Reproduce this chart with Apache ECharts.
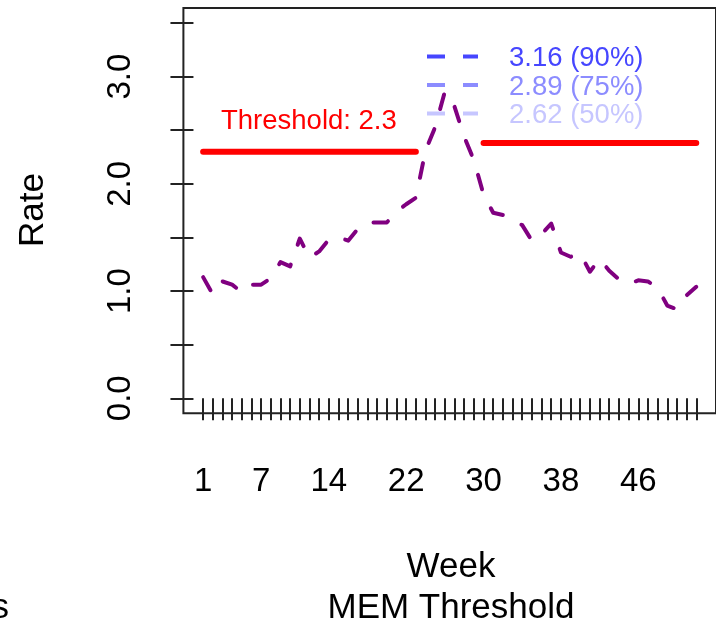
<!DOCTYPE html>
<html>
<head>
<meta charset="utf-8">
<script src="https://cdn.jsdelivr.net/npm/echarts@6/dist/echarts.min.js"></script>
<style>
  html, body { margin: 0; padding: 0; background: #fff; }
  #chart { width: 716px; height: 625px; }
</style>
</head>
<body>
<div id="chart"></div>
<script>
// Weekly rates for the season (weeks 1..52)
const weeks = [];
for (let w = 1; w <= 52; w++) weeks.push(w);
const rates = [
  1.13, 0.97, 1.09, 1.06, 0.99, 1.06, 1.06, 1.12, 1.27, 1.23,
  1.49, 1.31, 1.37, 1.48, 1.50, 1.47, 1.58, 1.64, 1.64, 1.64,
  1.74, 1.81, 1.87, 2.31, 2.53, 2.86, 2.72, 2.44, 2.22, 1.90,
  1.73, 1.71, 1.66, 1.615, 1.47, 1.53, 1.63, 1.36, 1.32, 1.35,
  1.18, 1.30, 1.19, 1.11, 1.065, 1.10, 1.09, 1.03, 0.865, 0.83,
  0.96, 1.04
];

// Epidemic thresholds and the weeks they span
const preThreshold = 2.30;
const postThreshold = 2.38;
const preWeeks = [1, 23];
const postWeeks = [30, 52];

// Intensity levels
const intensityValues = [3.16, 2.89, 2.62];
const intensityLevels = ['90%', '75%', '50%'];
const intensityColors = ['#4646FF', '#8C8CFF', '#C6C6FF'];

// Axis ticks and labels
const xTickWeeks = weeks.slice();
const xLabelWeeks = [1, 7, 14, 22, 30, 38, 46];
const yTicks = [0, 0.5, 1, 1.5, 2, 2.5, 3, 3.5];
const yLabels = [0, 1, 2, 3];

const FONT = '"Liberation Sans", Arial, sans-serif';
const AXIS_COLOR = '#222';

const chart = echarts.init(document.getElementById('chart'), null, { renderer: 'canvas' });

// Legend rows: dashed swatch followed by "value (level)"
const legendGraphics = [];
const rowY = [56.5, 85, 113.5];
intensityValues.forEach((v, i) => {
  legendGraphics.push({
    type: 'line',
    z: 1,
    shape: { x1: 427, y1: rowY[i], x2: 478, y2: rowY[i] },
    style: { stroke: intensityColors[i], lineWidth: 4, lineDash: [18, 18], lineCap: 'butt' }
  });
  legendGraphics.push({
    type: 'text',
    z: 1,
    x: 509, y: rowY[i] + 2,
    style: {
      text: v.toFixed(2) + ' (' + intensityLevels[i] + ')',
      fill: intensityColors[i],
      fontSize: 27.5, fontFamily: FONT,
      textAlign: 'left', textVerticalAlign: 'middle'
    }
  });
});

const option = {
  animation: false,
  backgroundColor: '#fff',
  textStyle: { fontFamily: FONT },
  grid: {
    left: 183.4, top: 8, width: 538.2, height: 405.3,
    show: true, borderColor: AXIS_COLOR, borderWidth: 2, backgroundColor: 'transparent'
  },
  xAxis: {
    type: 'value',
    min: -1.04, max: 54.04,
    splitLine: { show: false },
    axisLine: { show: false },
    axisTick: {
      show: true, customValues: xTickWeeks, length: 22,
      lineStyle: { color: AXIS_COLOR, width: 2 }
    },
    axisLabel: {
      show: true, customValues: xLabelWeeks,
      fontSize: 33, color: '#000', margin: 52, fontFamily: FONT
    }
  },
  yAxis: {
    type: 'value',
    min: -0.14, max: 3.64,
    splitLine: { show: false },
    axisLine: { show: false },
    axisTick: {
      show: true, customValues: yTicks, length: 23,
      lineStyle: { color: AXIS_COLOR, width: 2 }
    },
    axisLabel: {
      show: true, customValues: yLabels, rotate: 90,
      formatter: v => Number(v).toFixed(1),
      fontSize: 33, color: '#000', margin: 46, fontFamily: FONT
    }
  },
  series: [
    {
      name: 'Pre-epidemic threshold',
      type: 'line',
      z: 2,
      data: preWeeks.map(w => [w, preThreshold]),
      showSymbol: false,
      lineStyle: { color: '#FF0000', width: 6, cap: 'round' }
    },
    {
      name: 'Post-epidemic threshold',
      type: 'line',
      z: 2,
      data: postWeeks.map(w => [w, postThreshold]),
      showSymbol: false,
      lineStyle: { color: '#FF0000', width: 6, cap: 'round' }
    },
    {
      name: 'Rate',
      type: 'line',
      z: 3,
      data: weeks.map((w, i) => [w, rates[i]]),
      showSymbol: false,
      lineStyle: { color: '#800080', width: 4, type: [15, 21], cap: 'round', join: 'round' }
    }
  ],
  graphic: legendGraphics.concat([
    {
      type: 'text', z: 1,
      x: 221, y: 121,
      style: {
        text: 'Threshold: ' + preThreshold.toFixed(1),
        fill: '#FF0000', fontSize: 27.5, fontFamily: FONT,
        textAlign: 'left', textVerticalAlign: 'middle'
      }
    },
    {
      type: 'text',
      x: 33, y: 210, rotation: Math.PI / 2,
      style: {
        text: 'Rate', fill: '#000', fontSize: 35, fontFamily: FONT,
        textAlign: 'center', textVerticalAlign: 'middle'
      }
    },
    {
      type: 'text',
      x: 451, y: 567,
      style: {
        text: 'Week', fill: '#000', fontSize: 35, fontFamily: FONT,
        textAlign: 'center', textVerticalAlign: 'middle'
      }
    },
    {
      type: 'text',
      x: 451, y: 608,
      style: {
        text: 'MEM Threshold', fill: '#000', fontSize: 35, fontFamily: FONT,
        textAlign: 'center', textVerticalAlign: 'middle'
      }
    },
    {
      type: 'text',
      x: 9, y: 608,
      style: {
        text: 's', fill: '#000', fontSize: 35, fontFamily: FONT,
        textAlign: 'right', textVerticalAlign: 'middle'
      }
    }
  ])
};

chart.setOption(option);
</script>
</body>
</html>
